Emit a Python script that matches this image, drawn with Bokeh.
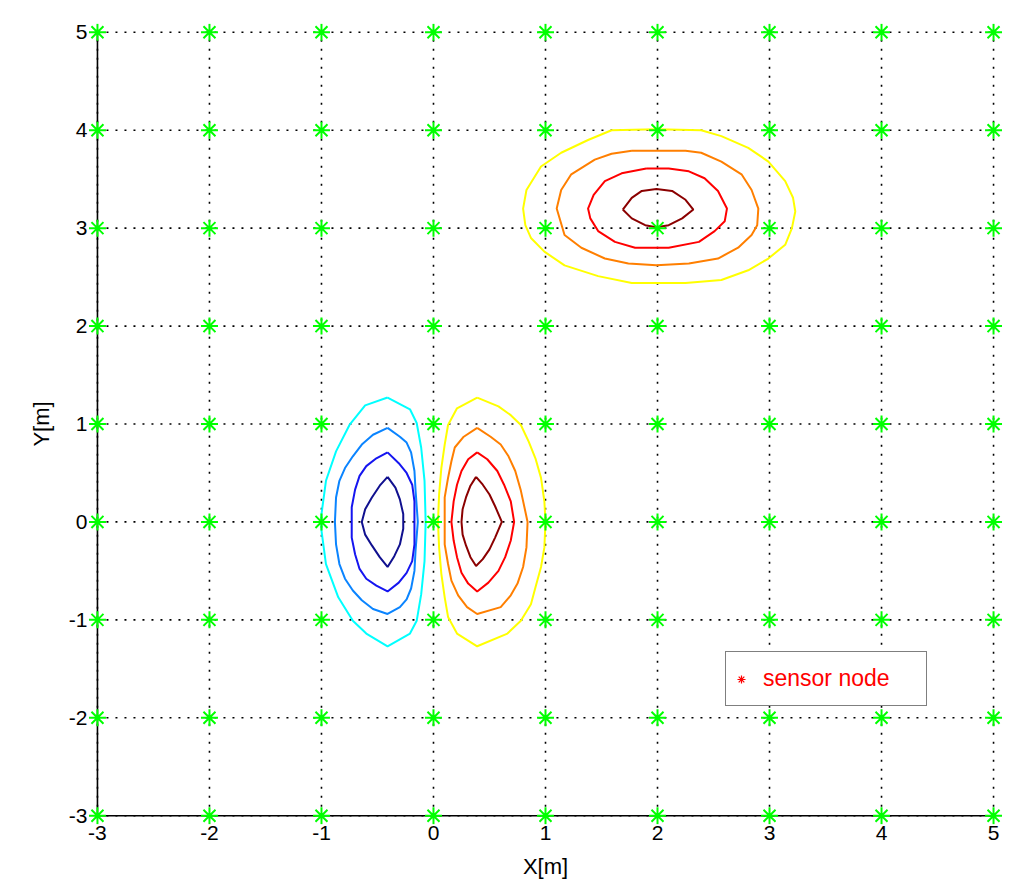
import numpy as np
from bokeh.plotting import figure
from bokeh.models import FixedTicker, Range1d, Legend, LegendItem
from bokeh.embed import file_html
from bokeh.resources import INLINE

# ---------------- data ----------------
x_ticks = [-3, -2, -1, 0, 1, 2, 3, 4, 5]
y_ticks = [-3, -2, -1, 0, 1, 2, 3, 4, 5]
x_labels = ["-3", "-2", "-1", "0", "1", "2", "3", "4", "5"]
y_labels = ["-3", "-2", "-1", "0", "1", "2", "3", "4", "5"]

# sensor nodes on every integer grid point
node_x = [-3, -2, -1, 0, 1, 2, 3, 4, 5]
node_y = [-3, -2, -1, 0, 1, 2, 3, 4, 5]

# contour lines (data coordinates)
neg1_x = [-0.41, -0.21, -0.15, -0.11, -0.08, -0.07, -0.08, -0.11, -0.15, -0.21, -0.41, -0.60, -0.72, -0.85, -0.96, -1.00, -1.00, -0.96, -0.87, -0.75, -0.61]
neg1_y = [1.27, 1.15, 1.01, 0.76, 0.42, 0.00, -0.40, -0.74, -1.01, -1.14, -1.27, -1.14, -1.01, -0.77, -0.43, -0.09, 0.08, 0.42, 0.72, 0.99, 1.19]

neg2_x = [-0.41, -0.30, -0.24, -0.20, -0.17, -0.16, -0.14, -0.16, -0.17, -0.20, -0.24, -0.30, -0.41, -0.54, -0.64, -0.72, -0.79, -0.84, -0.87, -0.88, -0.87, -0.84, -0.79, -0.72, -0.64, -0.54]
neg2_y = [0.96, 0.87, 0.81, 0.71, 0.52, 0.32, 0.00, -0.29, -0.50, -0.68, -0.79, -0.87, -0.94, -0.89, -0.80, -0.70, -0.58, -0.43, -0.23, 0.00, 0.25, 0.42, 0.55, 0.67, 0.79, 0.89]

neg3_x = [-0.41, -0.31, -0.24, -0.19, -0.17, -0.17, -0.17, -0.19, -0.24, -0.31, -0.41, -0.51, -0.60, -0.66, -0.70, -0.73, -0.73, -0.70, -0.66, -0.60, -0.51]
neg3_y = [0.71, 0.60, 0.50, 0.38, 0.21, 0.00, -0.23, -0.40, -0.52, -0.62, -0.71, -0.65, -0.58, -0.48, -0.33, -0.16, 0.15, 0.33, 0.47, 0.57, 0.65]

neg4_x = [-0.41, -0.34, -0.30, -0.27, -0.27, -0.30, -0.35, -0.41, -0.48, -0.55, -0.61, -0.64, -0.61, -0.55, -0.48]
neg4_y = [0.46, 0.35, 0.23, 0.08, -0.07, -0.23, -0.35, -0.46, -0.36, -0.24, -0.13, 0.00, 0.13, 0.25, 0.37]

pos1_x = [0.39, 0.58, 0.69, 0.78, 0.85, 0.91, 0.96, 0.99, 1.00, 0.99, 0.96, 0.91, 0.87, 0.78, 0.66, 0.39, 0.21, 0.13, 0.10, 0.07, 0.05, 0.04, 0.05, 0.07, 0.10, 0.13, 0.21]
pos1_y = [1.27, 1.18, 1.09, 0.99, 0.82, 0.65, 0.45, 0.21, 0.00, -0.26, -0.46, -0.67, -0.84, -1.01, -1.14, -1.27, -1.14, -0.97, -0.77, -0.53, -0.26, 0.00, 0.28, 0.55, 0.79, 0.99, 1.16]

pos2_x = [0.39, 0.51, 0.60, 0.67, 0.73, 0.78, 0.84, 0.83, 0.80, 0.75, 0.69, 0.60, 0.39, 0.30, 0.22, 0.16, 0.13, 0.10, 0.10, 0.10, 0.13, 0.16, 0.19, 0.27]
pos2_y = [0.96, 0.87, 0.79, 0.67, 0.52, 0.32, 0.00, -0.26, -0.46, -0.63, -0.75, -0.87, -0.94, -0.87, -0.75, -0.60, -0.43, -0.23, 0.00, 0.25, 0.45, 0.62, 0.76, 0.87]

pos3_x = [0.39, 0.48, 0.57, 0.63, 0.69, 0.72, 0.69, 0.64, 0.58, 0.49, 0.39, 0.31, 0.25, 0.21, 0.18, 0.16, 0.18, 0.21, 0.25, 0.31]
pos3_y = [0.71, 0.64, 0.52, 0.38, 0.21, 0.00, -0.19, -0.36, -0.50, -0.62, -0.71, -0.63, -0.52, -0.36, -0.19, 0.00, 0.21, 0.38, 0.52, 0.64]

pos4_x = [0.38, 0.44, 0.50, 0.55, 0.61, 0.55, 0.50, 0.44, 0.38, 0.33, 0.29, 0.26, 0.25, 0.26, 0.29, 0.33]
pos4_y = [0.46, 0.38, 0.28, 0.16, 0.00, -0.16, -0.28, -0.38, -0.45, -0.36, -0.24, -0.13, 0.00, 0.13, 0.25, 0.37]

src1_x = [1.59, 1.99, 2.39, 2.57, 2.81, 2.99, 3.14, 3.21, 3.23, 3.20, 3.14, 2.99, 2.81, 2.57, 2.25, 1.77, 1.47, 1.17, 0.99, 0.87, 0.82, 0.80, 0.83, 0.96, 1.14, 1.38]
src1_y = [4.00, 4.01, 4.00, 3.94, 3.82, 3.68, 3.48, 3.31, 3.17, 3.00, 2.83, 2.69, 2.57, 2.47, 2.44, 2.44, 2.51, 2.62, 2.76, 2.90, 3.03, 3.20, 3.39, 3.63, 3.77, 3.90]

src2_x = [1.77, 2.25, 2.39, 2.57, 2.75, 2.84, 2.90, 2.89, 2.84, 2.72, 2.54, 2.28, 1.99, 1.74, 1.53, 1.32, 1.17, 1.10, 1.14, 1.23, 1.44, 1.59]
src2_y = [3.79, 3.79, 3.77, 3.68, 3.55, 3.39, 3.20, 3.03, 2.93, 2.80, 2.69, 2.64, 2.62, 2.64, 2.69, 2.80, 2.93, 3.20, 3.39, 3.55, 3.70, 3.76]

src3_x = [1.90, 2.10, 2.28, 2.42, 2.54, 2.62, 2.60, 2.51, 2.37, 2.10, 1.80, 1.62, 1.47, 1.40, 1.38, 1.43, 1.53, 1.68]
src3_y = [3.61, 3.61, 3.58, 3.51, 3.38, 3.20, 3.07, 2.97, 2.86, 2.80, 2.80, 2.86, 2.97, 3.10, 3.20, 3.34, 3.48, 3.56]

src4_x = [1.69, 1.77, 1.86, 1.99, 2.13, 2.25, 2.32, 2.22, 2.10, 1.99, 1.89, 1.77]
src4_y = [3.19, 3.31, 3.38, 3.40, 3.38, 3.29, 3.19, 3.10, 3.03, 3.01, 3.03, 3.10]

contour_xs = [neg1_x, neg2_x, neg3_x, neg4_x, pos1_x, pos2_x, pos3_x, pos4_x, src1_x, src2_x, src3_x, src4_x]
contour_ys = [neg1_y, neg2_y, neg3_y, neg4_y, pos1_y, pos2_y, pos3_y, pos4_y, src1_y, src2_y, src3_y, src4_y]
contour_colors = ["#00FFFF", "#0A84FF", "#1515F0", "#10108F",
                  "#FFFF00", "#FF7F00", "#FF0000", "#8B0000",
                  "#FFFF00", "#FF7F00", "#FF0000", "#8B0000"]

legend_label = "sensor node"
x_title = "X[m]"
y_title = "Y[m]"

# ---------------- figure ----------------
FONT = "Liberation Sans"
p = figure(width=1016, height=887,
           x_range=Range1d(-3.08, 5.08), y_range=Range1d(-3.09, 5.09),
           output_backend="svg", toolbar_location=None, tools="",
           min_border_left=88, min_border_right=14,
           min_border_top=23, min_border_bottom=63)
p.outline_line_color = None
p.background_fill_color = "white"
p.border_fill_color = "white"
p.grid.visible = False

# dotted grid lines
n = len(x_ticks)
p.segment(x0=x_ticks, y0=[y_ticks[0]] * n, x1=x_ticks, y1=[y_ticks[-1]] * n,
          line_color="black", line_width=1.6, line_dash="2 7")
m = len(y_ticks)
p.segment(x0=[x_ticks[0]] * m, y0=y_ticks, x1=[x_ticks[-1]] * m, y1=y_ticks,
          line_color="black", line_width=1.6, line_dash="2 7")

# axis lines (left and bottom only)
p.segment(x0=[x_ticks[0], x_ticks[0]], y0=[y_ticks[0], y_ticks[0]],
          x1=[x_ticks[-1], x_ticks[0]], y1=[y_ticks[0], y_ticks[-1]],
          line_color="black", line_width=1.6)

# contours (closed polylines)
closed_xs = [list(c) + [c[0]] for c in contour_xs]
closed_ys = [list(c) + [c[0]] for c in contour_ys]
p.multi_line(xs=closed_xs, ys=closed_ys, line_color=contour_colors, line_width=2)

# sensor nodes
gx, gy = np.meshgrid(node_x, node_y)
p.scatter(x=gx.ravel(), y=gy.ravel(), marker="asterisk", size=17,
          line_color="#00FF00", line_width=2)

# legend proxy (a single NaN point, never drawn in the plot)
proxy = p.scatter(x=[float("nan")], y=[float("nan")], marker="asterisk",
                  line_color="#FF0000", line_width=1.2)
legend = Legend(items=[LegendItem(label=legend_label, renderers=[proxy])],
                location=(637, 118), margin=0, padding=5, spacing=0,
                glyph_width=20, glyph_height=26, label_standoff=12,
                label_width=158, label_height=43,
                label_text_color="#FF0000", label_text_font=FONT,
                label_text_font_size="23px",
                border_line_color="black", border_line_width=1.5,
                background_fill_color="white", background_fill_alpha=1.0)
p.add_layout(legend)

# axes
for ax, ticks, labels, title, stand in ((p.xaxis[0], x_ticks, x_labels, x_title, 11),
                                         (p.yaxis[0], y_ticks, y_labels, y_title, 12)):
    ax.ticker = FixedTicker(ticks=ticks)
    ax.major_label_overrides = dict(zip(ticks, labels))
    ax.axis_line_color = None
    ax.major_tick_line_color = None
    ax.minor_tick_line_color = None
    ax.major_tick_in = 0
    ax.major_tick_out = 0
    ax.major_label_standoff = 1
    ax.major_label_text_font = FONT
    ax.major_label_text_font_size = "21px"
    ax.major_label_text_color = "black"
    ax.axis_label = title
    ax.axis_label_text_font = FONT
    ax.axis_label_text_font_size = "22px"
    ax.axis_label_text_font_style = "normal"
    ax.axis_label_text_color = "black"
    ax.axis_label_standoff = stand

open("out.html", "w").write(file_html(p, INLINE))
